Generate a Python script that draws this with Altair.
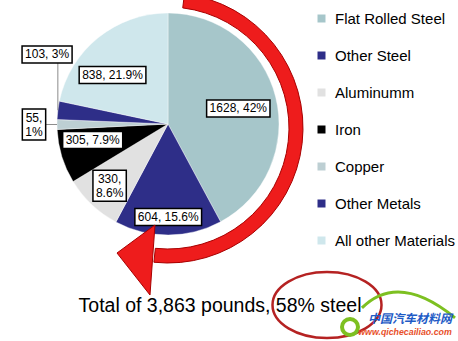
import math
import altair as alt
import pandas as pd

# ---------------- data ----------------
CATEGORIES = ["Flat Rolled Steel", "Other Steel", "Aluminumm", "Iron",
              "Copper", "Other Metals", "All other Materials"]
POUNDS = [1628, 604, 330, 305, 55, 103, 838]
SHARES = ["42%", "15.6%", "8.6%", "7.9%", "1%", "3%", "21.9%"]
COLORS = ["#A6C6CA", "#2E2E88", "#E1E1E1", "#000000", "#BDCFD3", "#2E2E88", "#CFE7EC"]
TITLE = "Total of 3,863 pounds, 58% steel"
WM_CN = "中国汽车材料网"
WM_URL = "www.qichecailiao.com"

# ---------------- layout / style ----------------
W, H = 458, 341
CX, CY = 168, 124       # pie centre (px)
R = 111                 # pie radius (px) == 1 data unit
LH = 14                 # label line height

# label placement: angle offset from slice middle (deg), radius (px), two lines?
LABEL_STYLE = {
    "Flat Rolled Steel": (1.7, 72, False),
    "Other Steel": (0.0, 93, False),
    "Aluminumm": (0.0, 85, True),
    "Iron": (5.0, 77, False),
    "Copper": (0.0, 134, True),
    "Other Metals": (22.8, 139.5, False),
    "All other Materials": (-9.5, 74, False),
}
FS = 12
CHAR_W = {c: 0.556 for c in "0123456789"}
CHAR_W.update({",": 0.278, ".": 0.278, " ": 0.278, "%": 0.889})

total = sum(POUNDS)
rows = []
acc = 0
for cat, p, s in zip(CATEGORIES, POUNDS, SHARES):
    start, end = acc, acc + p
    acc = end
    off, lr, brk = LABEL_STYLE[cat]
    mid = (start + end) / 2 / total * 2 * math.pi
    la = mid + math.radians(off)
    lx, ly = math.sin(la) * lr / R, math.cos(la) * lr / R
    text = f"{p},\n{s}" if brk else f"{p}, {s}"
    lines = text.split("\n")
    bw = max(sum(CHAR_W.get(c, 0.556) for c in ln) for ln in lines) * FS + 6
    bh = len(lines) * LH + 3
    bx1, bx2 = lx - bw / 2 / R, lx + bw / 2 / R
    by1, by2 = ly - bh / 2 / R, ly + bh / 2 / R
    ty = ly + (len(lines) - 1) * LH / 2 / R
    ex, ey = math.sin(mid), math.cos(mid)
    rows.append(dict(category=cat, start=start, end=end, text=text,
                     lx=lx, ly=ly, ty=ty, bx1=bx1, bx2=bx2, by1=by1, by2=by2,
                     ex=ex, ey=ey,
                     ex2=min(max(ex, bx1), bx2), ey2=min(max(ey, by1), by2),
                     leader=lr > R))
df = pd.DataFrame(rows)

xs = alt.Scale(domain=[-CX / R, (W - CX) / R], nice=False, zero=False)
ys = alt.Scale(domain=[(CY - H) / R, CY / R], nice=False, zero=False)
ts = alt.Scale(domain=[0, total], range=[0, 2 * math.pi])

base = alt.Chart(df)

pie = base.mark_arc(radius=R, stroke="white", strokeWidth=0.4).encode(
    x=alt.XDatum(0, type="quantitative", scale=xs, axis=None),
    y=alt.YDatum(0, type="quantitative", scale=ys, axis=None),
    theta=alt.Theta("start:Q", scale=ts),
    theta2=alt.Theta2("end:Q"),
    color=alt.Color(
        "category:N",
        scale=alt.Scale(domain=CATEGORIES, range=COLORS),
        legend=alt.Legend(
            title=None, orient="none", legendX=314, legendY=11,
            symbolType="square", symbolSize=64, symbolStrokeWidth=0,
            labelFont="Liberation Sans", labelFontSize=15, labelColor="#000000",
            labelOffset=6, rowPadding=21, padding=0, labelLimit=200,
        ),
    ),
)

leaders = base.transform_filter("datum.leader").mark_rule(
    color="#8C8C8C", strokeWidth=1
).encode(
    x=alt.X("ex:Q", scale=xs, axis=None), y=alt.Y("ey:Q", scale=ys, axis=None),
    x2="ex2:Q", y2="ey2:Q",
)

boxes = base.mark_rect(fill="white", stroke="black", strokeWidth=1.5).encode(
    x=alt.X("bx1:Q", scale=xs, axis=None), x2="bx2:Q",
    y=alt.Y("by1:Q", scale=ys, axis=None), y2="by2:Q",
)

labels = base.mark_text(
    font="Liberation Sans", fontSize=FS, lineBreak="\n", lineHeight=LH,
    align="center", baseline="middle", color="black",
).encode(
    x=alt.X("lx:Q", scale=xs, axis=None), y=alt.Y("ty:Q", scale=ys, axis=None),
    text="text:N",
)

one = alt.Chart(pd.DataFrame({"k": [0]}))

ring = one.mark_arc(
    theta=math.radians(7), theta2=math.radians(186), radius=135, radius2=121,
    fill="#EE1C1C", stroke="#A80000", strokeWidth=1,
).encode(x=alt.value(168), y=alt.value(128))

arrow = one.mark_point(
    shape="M-0.635,-0.126L0.383,-0.877L0.249,1Z", size=5565, filled=True,
    fill="#EE1C1C", stroke="#A80000", strokeWidth=1, opacity=1,
).encode(x=alt.value(140.7), y=alt.value(257.7))

title = one.mark_text(
    text=TITLE, font="Liberation Sans", fontSize=19.5, color="black",
    align="center", baseline="middle",
).encode(x=alt.value(220), y=alt.value(306))

ellipse = one.mark_point(
    shape="M-1,0A1,0.606 0 1,1 1,0A1,0.606 0 1,1 -1,0Z", size=11881,
    filled=False, stroke="#B52222", strokeWidth=2.5, opacity=1,
).encode(x=alt.value(327), y=alt.value(305))

swoosh = one.mark_point(
    shape="M-0.98,0.02Q-0.2,-0.75 1,0.23", size=8836, filled=False,
    stroke="#7DC021", strokeWidth=3, opacity=1,
).encode(x=alt.value(408), y=alt.value(307))

cring = one.mark_point(
    shape="circle", size=256, filled=False, stroke="#7DC021", strokeWidth=4, opacity=1,
).encode(x=alt.value(350), y=alt.value(327))

wm_cn = one.mark_text(
    text=WM_CN, font="Noto Sans CJK SC", fontSize=12, fontWeight="bold",
    fontStyle="italic", color="#1E5BC6", align="center", baseline="middle",
).encode(x=alt.value(410), y=alt.value(319))

wm_url = one.mark_text(
    text=WM_URL, font="Liberation Sans", fontSize=8.8, fontWeight="bold",
    fontStyle="italic", color="#E8502A", align="center", baseline="middle",
).encode(x=alt.value(405), y=alt.value(332))

chart = alt.layer(
    pie, leaders, boxes, labels, ring, arrow, title, ellipse,
    swoosh, cring, wm_cn, wm_url,
).properties(
    width=W, height=H, padding=0,
    autosize=alt.AutoSizeParams(type="none"),
).configure_view(stroke=None)

chart.save("out.html", embed_options={"renderer": "svg", "actions": False})
